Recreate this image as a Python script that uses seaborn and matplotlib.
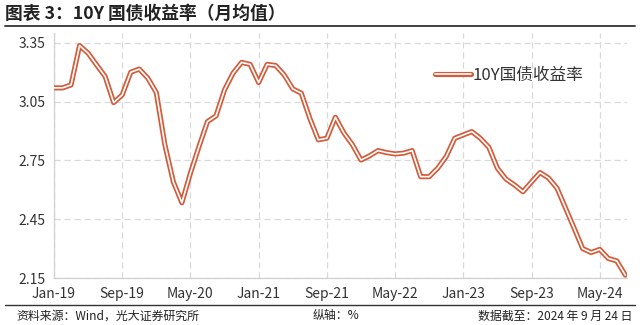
import matplotlib
matplotlib.use("Agg")
import matplotlib.pyplot as plt
import seaborn as sns
import pandas as pd
import numpy as np
from matplotlib.lines import Line2D

months = pd.date_range("2019-01-01", "2024-08-01", freq="MS")
yields = [
    3.12, 3.12, 3.135, 3.336, 3.297, 3.237, 3.178, 3.045, 3.084, 3.20, 3.216, 3.17,
    3.096, 2.83, 2.64, 2.534, 2.685, 2.82, 2.948, 2.977, 3.11, 3.195, 3.25, 3.24,
    3.147, 3.24, 3.234, 3.186, 3.115, 3.093, 2.965, 2.855, 2.863, 2.97, 2.89, 2.83,
    2.752, 2.773, 2.80, 2.79, 2.783, 2.787, 2.80, 2.667, 2.667, 2.71, 2.77, 2.863,
    2.88, 2.897, 2.863, 2.817, 2.71, 2.655, 2.625, 2.59, 2.64, 2.688, 2.66, 2.608,
    2.506, 2.404, 2.30, 2.28, 2.296, 2.25, 2.237, 2.165,
]
y_ticks = [2.15, 2.45, 2.75, 3.05, 3.35]
series_name = "10Y国债收益率"

df = pd.DataFrame({"idx": np.arange(len(months)), "value": yields})
labels = [d.strftime("%b-%y") for d in months]

sns.set_style("white")
plt.rcParams["font.family"] = ["Noto Sans CJK SC", "DejaVu Sans"]

W, H = 640, 325
fig = plt.figure(figsize=(6.4, 3.25), dpi=100)
left, right, top, bottom = 54, 627, 33, 278
ax = fig.add_axes([left / W, 1 - bottom / H, (right - left) / W, (bottom - top) / H])

red = "#D45B3A"
sns.lineplot(data=df, x="idx", y="value", ax=ax, color=red, lw=3.7, zorder=3)
sns.lineplot(data=df, x="idx", y="value", ax=ax, color="white", lw=1.2, zorder=4)

ax.set_xlim(0, 67.2)
ax.set_ylim(2.15, 3.40)
xt = list(range(0, len(months), 8))
ax.set_xticks(xt)
ax.set_xticklabels([labels[i] for i in xt])
ax.set_yticks(y_ticks)
ax.set_yticklabels([f"{v:.2f}" for v in y_ticks])
ax.set_xlabel("")
ax.set_ylabel("")
ax.grid(True, color="#d9d9d9", ls=(0, (5, 3)), lw=0.9)
ax.set_axisbelow(True)
for s in ["top", "right"]:
    ax.spines[s].set_visible(False)
for s in ["left", "bottom"]:
    ax.spines[s].set_color("#d0d0d0")
    ax.spines[s].set_linewidth(0.9)
ax.tick_params(axis="both", length=0, labelsize=10, colors="#333333")
ax.tick_params(axis="x", pad=6.5)
ax.tick_params(axis="y", pad=6)

h1 = Line2D([], [], color=red, lw=3.7, solid_capstyle="round")
h2 = Line2D([], [], color="white", lw=1.2, solid_capstyle="round")
leg = ax.legend([(h1, h2)], [series_name], loc="upper left",
                bbox_to_anchor=((428 - left) / (right - left), 1 - (60 - top) / (bottom - top)),
                frameon=False, fontsize=12, handlelength=2.2, handletextpad=0.1,
                borderaxespad=0)
for t in leg.get_texts():
    t.set_color("#333333")

fig.text(5 / W, 1 - 14 / H, "图表 3：10Y 国债收益率（月均值）", fontsize=12.8,
         fontweight="bold", va="center", ha="left", color="#222222")
fig.add_artist(Line2D([5 / W, 635 / W], [1 - 26 / H, 1 - 26 / H], color="#333333", lw=1.3))
fig.add_artist(Line2D([5 / W, 635 / W], [1 - 305 / H, 1 - 305 / H], color="#333333", lw=1.0))
fy = 1 - 316 / H
fig.text(16 / W, fy, "资料来源：Wind，光大证券研究所", fontsize=8.6, va="center", ha="left", color="#222222")
fig.text(313 / W, fy, "纵轴：%", fontsize=8.6, va="center", ha="left", color="#222222")
fig.text(632 / W, fy, "数据截至：2024 年 9 月 24 日", fontsize=8.6, va="center", ha="right", color="#222222")

fig.savefig("out.png", dpi=100)
